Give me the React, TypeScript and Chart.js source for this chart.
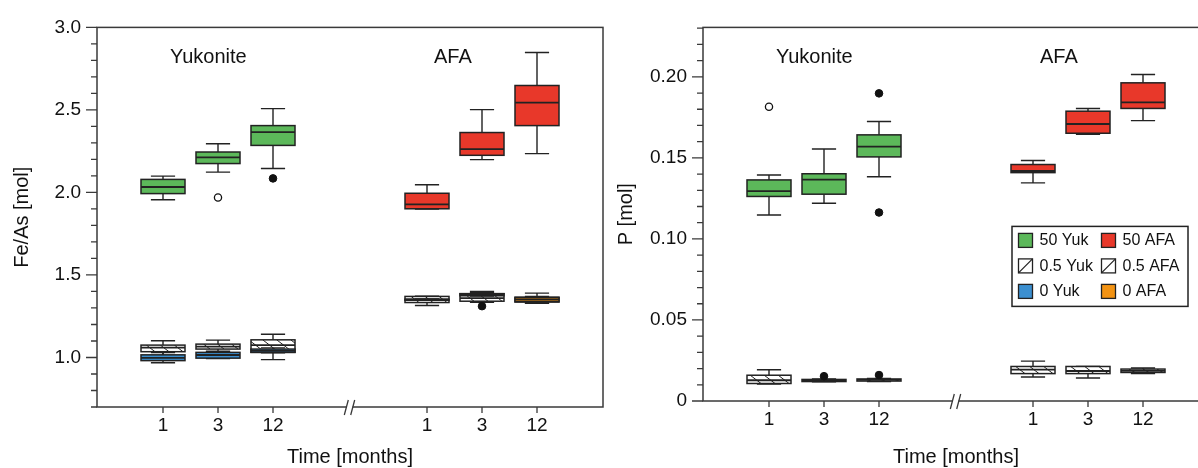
import React, { useEffect, useRef } from 'react';
import { Chart, registerables } from 'chart.js';

Chart.register(...registerables);

const FONT = '"Liberation Sans", Arial, Helvetica, sans-serif';

// ---------- categories / labels ----------
const months = ['1', '3', '12'];
const groups = ['Yukonite', 'AFA'];
const legendLabels = ['50 Yuk', '50 AFA', '0.5 Yuk', '0.5 AFA', '0 Yuk', '0 AFA'];
const feTickLabels = ['1.0', '1.5', '2.0', '2.5', '3.0'];
const pTickLabels = ['0', '0.05', '0.10', '0.15', '0.20'];

// ---------- Fe/As [mol]: [lower whisker, Q1, median, Q3, upper whisker] per month ----------
const feYuk50 = [[1.956, 1.993, 2.033, 2.079, 2.099], [2.123, 2.175, 2.213, 2.245, 2.295], [2.145, 2.285, 2.365, 2.405, 2.508]];
const feAfa50 = [[1.899, 1.901, 1.928, 1.995, 2.047], [2.199, 2.225, 2.263, 2.363, 2.502], [2.235, 2.405, 2.544, 2.648, 2.848]];
const feYuk05 = [[1.0, 1.035, 1.06, 1.075, 1.101], [1.035, 1.051, 1.066, 1.081, 1.105], [0.987, 1.031, 1.075, 1.107, 1.141]];
const feAfa05 = [[1.315, 1.333, 1.35, 1.37, 1.372], [1.335, 1.341, 1.36, 1.387, 1.4], [1.329, 1.336, 1.352, 1.366, 1.39]];
const feYuk0 = [[0.968, 0.981, 0.998, 1.016, 1.03], [0.993, 0.996, 1.015, 1.031, 1.038], [1.028, 1.031, 1.04, 1.051, 1.058]];
const feAfa0 = [[1.346, 1.347, 1.35, 1.353, 1.355], [1.372, 1.374, 1.379, 1.386, 1.392], [1.33, 1.338, 1.35, 1.362, 1.37]];
// outliers: [group, month index, value]
const feOpenOutliers = [[0, 1, 1.969]];
const feFilledOutliers = [[0, 2, 2.085], [1, 1, 1.311]];

// ---------- P [mol] ----------
const pYuk50 = [[0.1148, 0.1262, 0.1295, 0.1364, 0.1394], [0.122, 0.1276, 0.1366, 0.1402, 0.1555], [0.1384, 0.1506, 0.1569, 0.1642, 0.1724]];
const pAfa50 = [[0.1346, 0.1409, 0.1419, 0.1459, 0.1484], [0.1646, 0.1652, 0.1709, 0.1788, 0.1805], [0.173, 0.1805, 0.1843, 0.1963, 0.2014]];
const pYuk05 = [[0.0105, 0.0108, 0.0128, 0.0159, 0.0193], [0.0118, 0.012, 0.0127, 0.0133, 0.0136], [0.012, 0.0123, 0.013, 0.0136, 0.0139]];
const pAfa05 = [[0.0148, 0.0169, 0.0193, 0.0213, 0.0246], [0.0142, 0.0169, 0.0185, 0.0213, 0.0213], [0.017, 0.0176, 0.0186, 0.0197, 0.0204]];
const pOpenOutliers = [[0, 0, 0.1815]];
const pFilledOutliers = [[0, 2, 0.1898], [0, 2, 0.1163], [0, 1, 0.0153], [0, 2, 0.016]];

// ---------- styling / layout ----------
const GREEN = '#5cb85a';
const RED = '#e8382a';
const BLUE = '#3b8fd0';
const ORANGE = '#f39313';
const INK = '#222';
const AXIS = '#3a3a3a';
const TEXT = '#111';

const GROUP_START = [1.2, 6.0];
const X_MAX = 9.2;
const BREAK_AT = 4.6;
const xPositions = GROUP_START.flatMap((g) => months.map((_, i) => g + i));

type Series = { g: number; data: number[][]; fill?: string; hatch?: boolean };

type Spec = {
  yTitle: string;
  yMin: number;
  yMax: number;
  yStep: number;
  yLabels: string[];
  series: Series[];
  open: number[][];
  filled: number[][];
  legend: boolean;
  yAxisW: number;
  xAxisH: number;
  padRight: number;
};

function labelFor(v: number, labels: string[]) {
  const l = labels.find((s) => Math.abs(parseFloat(s) - v) < 1e-6);
  return l === undefined ? '' : l;
}

function drawBox(ctx: CanvasRenderingContext2D, xs: any, ys: any, xv: number, st: number[], fill: string | undefined, hatch: boolean) {
  const [lo, q1, med, q3, hi] = st;
  const cx = xs.getPixelForValue(xv);
  const hw = xs.getPixelForValue(xv + 0.4) - cx;
  const cw = xs.getPixelForValue(xv + 0.22) - cx;
  const pLo = ys.getPixelForValue(lo);
  const pQ1 = ys.getPixelForValue(q1);
  const pMed = ys.getPixelForValue(med);
  const pQ3 = ys.getPixelForValue(q3);
  const pHi = ys.getPixelForValue(hi);
  ctx.strokeStyle = INK;
  ctx.lineWidth = 1.4;
  ctx.beginPath();
  ctx.moveTo(cx, pQ3);
  ctx.lineTo(cx, pHi);
  ctx.moveTo(cx - cw, pHi);
  ctx.lineTo(cx + cw, pHi);
  ctx.moveTo(cx, pQ1);
  ctx.lineTo(cx, pLo);
  ctx.moveTo(cx - cw, pLo);
  ctx.lineTo(cx + cw, pLo);
  ctx.stroke();
  const top = pQ3;
  const h = Math.max(pQ1 - pQ3, 0.5);
  ctx.fillStyle = hatch ? '#fff' : (fill as string);
  ctx.fillRect(cx - hw, top, 2 * hw, h);
  if (hatch) {
    ctx.save();
    ctx.beginPath();
    ctx.rect(cx - hw, top, 2 * hw, h);
    ctx.clip();
    ctx.lineWidth = 1;
    ctx.beginPath();
    const dx = Math.max(h * 1.3, 6);
    for (let x0 = cx - hw - dx; x0 < cx + hw; x0 += 14) {
      ctx.moveTo(x0, top);
      ctx.lineTo(x0 + dx, top + h);
    }
    ctx.stroke();
    ctx.restore();
  }
  ctx.lineWidth = 1.5;
  ctx.strokeRect(cx - hw, top, 2 * hw, h);
  ctx.lineWidth = 1.8;
  ctx.beginPath();
  ctx.moveTo(cx - hw, pMed);
  ctx.lineTo(cx + hw, pMed);
  ctx.stroke();
}

function drawLegend(ctx: CanvasRenderingContext2D, area: any) {
  const x0 = area.left + 309;
  const y0 = area.top + 199;
  const w = 176;
  const h = 80;
  ctx.fillStyle = '#fff';
  ctx.fillRect(x0, y0, w, h);
  ctx.strokeStyle = INK;
  ctx.lineWidth = 1.5;
  ctx.strokeRect(x0, y0, w, h);
  const fills = [GREEN, RED, null, null, BLUE, ORANGE];
  ctx.font = `16px ${FONT}`;
  ctx.textBaseline = 'middle';
  ctx.textAlign = 'left';
  legendLabels.forEach((lab, i) => {
    const col = i % 2;
    const row = Math.floor(i / 2);
    const sx = x0 + 6.5 + col * 83;
    const sy = y0 + 7 + row * 25.5;
    const f = fills[i];
    ctx.fillStyle = f || '#fff';
    ctx.fillRect(sx, sy, 14, 14);
    ctx.strokeStyle = INK;
    ctx.lineWidth = 1.3;
    ctx.strokeRect(sx, sy, 14, 14);
    if (!f) {
      ctx.lineWidth = 1.2;
      ctx.beginPath();
      ctx.moveTo(sx, sy + 14);
      ctx.lineTo(sx + 14, sy);
      ctx.stroke();
    }
    ctx.fillStyle = TEXT;
    ctx.fillText(lab, sx + 21, sy + 7.5);
  });
}

function makePlugin(spec: Spec) {
  return {
    id: 'boxplots',
    beforeDatasetsDraw(chart: any) {
      const { ctx, scales } = chart;
      ctx.save();
      for (const s of spec.series) {
        s.data.forEach((st, m) => drawBox(ctx, scales.x, scales.y, GROUP_START[s.g] + m, st, s.fill, !!s.hatch));
      }
      ctx.restore();
    },
    afterDraw(chart: any) {
      const { ctx, chartArea: a, scales } = chart;
      const xs = scales.x;
      const ys = scales.y;
      ctx.save();
      ctx.strokeStyle = AXIS;
      ctx.lineWidth = 1.5;
      ctx.strokeRect(a.left, a.top, a.right - a.left, a.bottom - a.top);
      // y ticks
      ctx.lineWidth = 1.3;
      ctx.beginPath();
      ys.ticks.forEach((t: any) => {
        const py = ys.getPixelForValue(t.value);
        const len = labelFor(t.value, spec.yLabels) ? 11 : 6;
        ctx.moveTo(a.left - len, py);
        ctx.lineTo(a.left, py);
      });
      xs.ticks.forEach((t: any) => {
        const px = xs.getPixelForValue(t.value);
        ctx.moveTo(px, a.bottom);
        ctx.lineTo(px, a.bottom + 6);
      });
      ctx.stroke();
      // axis break
      const bx = xs.getPixelForValue(BREAK_AT);
      const by = a.bottom;
      ctx.fillStyle = '#fff';
      ctx.fillRect(bx - 3, by - 2, 5.5, 4);
      ctx.lineWidth = 1.3;
      ctx.beginPath();
      ctx.moveTo(bx - 5.7, by + 8);
      ctx.lineTo(bx - 1.7, by - 7);
      ctx.moveTo(bx + 0.7, by + 8);
      ctx.lineTo(bx + 4.7, by - 7);
      ctx.stroke();
      // group labels
      ctx.fillStyle = TEXT;
      ctx.font = `20px ${FONT}`;
      ctx.textAlign = 'left';
      ctx.textBaseline = 'alphabetic';
      groups.forEach((g, i) => {
        ctx.fillText(g, xs.getPixelForValue(GROUP_START[i]) + 7, a.top + 36);
      });
      if (spec.legend) drawLegend(ctx, a);
      ctx.restore();
    },
  };
}

function buildConfig(spec: Spec): any {
  const toPts = (arr: number[][]) => arr.map(([g, m, v]) => ({ x: GROUP_START[g] + m, y: v }));
  return {
    type: 'scatter',
    data: {
      datasets: [
        { data: toPts(spec.open), pointRadius: 3.6, pointBackgroundColor: '#fff', pointBorderColor: TEXT, pointBorderWidth: 1.3 },
        { data: toPts(spec.filled), pointRadius: 3.8, pointBackgroundColor: TEXT, pointBorderColor: TEXT, pointBorderWidth: 1 },
      ],
    },
    options: {
      responsive: false,
      animation: false,
      devicePixelRatio: 1,
      events: [],
      layout: { padding: { left: 0, top: 23, right: spec.padRight, bottom: 0 } },
      plugins: { legend: { display: false }, tooltip: { enabled: false } },
      scales: {
        x: {
          type: 'linear',
          min: 0,
          max: X_MAX,
          grid: { display: false, drawTicks: false },
          border: { display: false },
          afterBuildTicks: (s: any) => {
            s.ticks = xPositions.map((v) => ({ value: v }));
          },
          afterFit: (s: any) => {
            s.height = spec.xAxisH;
          },
          ticks: {
            autoSkip: false,
            maxRotation: 0,
            padding: 7,
            color: TEXT,
            font: { size: 19, family: FONT },
            callback: (_v: any, i: number) => months[i % months.length],
          },
          title: {
            display: true,
            text: 'Time [months]',
            color: TEXT,
            font: { size: 20, family: FONT, lineHeight: 1.1 },
            padding: { top: 0, bottom: 0 },
          },
        },
        y: {
          type: 'linear',
          min: spec.yMin,
          max: spec.yMax,
          grid: { display: false, drawTicks: false },
          border: { display: false },
          afterFit: (s: any) => {
            s.width = spec.yAxisW;
          },
          ticks: {
            stepSize: spec.yStep,
            maxTicksLimit: 200,
            autoSkip: false,
            includeBounds: false,
            padding: 16,
            color: TEXT,
            font: { size: 19, family: FONT },
            callback: (v: number) => labelFor(v, spec.yLabels),
          },
          title: {
            display: true,
            text: spec.yTitle,
            color: TEXT,
            font: { size: 20, family: FONT, lineHeight: 1.1 },
            padding: { top: 11, bottom: 0 },
          },
        },
      },
    },
    plugins: [makePlugin(spec)],
  };
}

const feSpec: Spec = {
  yTitle: 'Fe/As [mol]',
  yMin: 0.7,
  yMax: 3.0,
  yStep: 0.1,
  yLabels: feTickLabels,
  series: [
    { g: 0, data: feYuk50, fill: GREEN },
    { g: 1, data: feAfa50, fill: RED },
    { g: 0, data: feYuk05, hatch: true },
    { g: 1, data: feAfa05, hatch: true },
    { g: 0, data: feYuk0, fill: BLUE },
    { g: 1, data: feAfa0, fill: ORANGE },
  ],
  open: feOpenOutliers,
  filled: feFilledOutliers,
  legend: false,
  yAxisW: 97,
  xAxisH: 61,
  padRight: 7,
};

const pSpec: Spec = {
  yTitle: 'P [mol]',
  yMin: 0,
  yMax: 0.2305,
  yStep: 0.01,
  yLabels: pTickLabels,
  series: [
    { g: 0, data: pYuk50, fill: GREEN },
    { g: 1, data: pAfa50, fill: RED },
    { g: 0, data: pYuk05, hatch: true },
    { g: 1, data: pAfa05, hatch: true },
  ],
  open: pOpenOutliers,
  filled: pFilledOutliers,
  legend: true,
  yAxisW: 99,
  xAxisH: 67,
  padRight: 15,
};

function Panel({ spec, left, width }: { spec: Spec; left: number; width: number }) {
  const ref = useRef<HTMLCanvasElement>(null);
  useEffect(() => {
    const chart = new Chart(ref.current as HTMLCanvasElement, buildConfig(spec));
    return () => chart.destroy();
  }, [spec]);
  return (
    <canvas
      ref={ref}
      width={width}
      height={468}
      style={{ position: 'absolute', left, top: 0, width, height: 468 }}
    />
  );
}

export default function App() {
  return (
    <div
      style={{
        position: 'fixed',
        left: 0,
        top: 0,
        width: 1198,
        height: 468,
        overflow: 'hidden',
        background: '#fff',
      }}
    >
      <Panel spec={feSpec} left={0} width={610} />
      <Panel spec={pSpec} left={604} width={620} />
    </div>
  );
}
